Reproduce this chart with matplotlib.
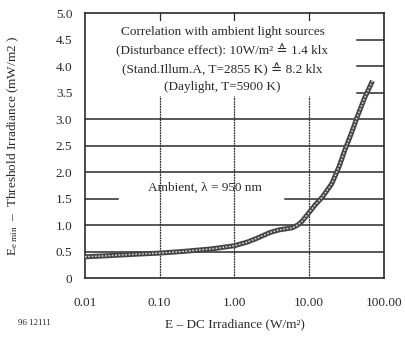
import matplotlib as mpl
import matplotlib.pyplot as plt

mpl.rcParams.update({
    "font.family": ["Liberation Serif", "DejaVu Serif", "DejaVu Sans"],
    "mathtext.fontset": "custom",
    "mathtext.rm": "Liberation Serif",
    "mathtext.it": "Liberation Serif:italic",
    "font.size": 9,
})

INK = "#2a2a2a"

# DC irradiance (W/m2) vs threshold irradiance (mW/m2)
dc_irr = [0.01, 0.02, 0.05, 0.1, 0.2, 0.5, 1.0, 1.5, 2.0, 3.0, 4.0, 5.0, 6.0, 7.0, 8.0,
          10.0, 12.0, 15.0, 20.0, 25.0, 30.0, 37.0, 44.0, 55.0, 70.0]
threshold = [0.40, 0.42, 0.45, 0.47, 0.50, 0.55, 0.61, 0.68, 0.75, 0.86, 0.91, 0.93, 0.95,
             1.00, 1.07, 1.24, 1.38, 1.53, 1.78, 2.10, 2.42, 2.75, 3.05, 3.40, 3.72]

x_ticks = [0.01, 0.1, 1, 10, 100]
x_tick_labels = ["0.01", "0.10", "1.00", "10.00", "100.00"]
y_ticks = [0, 0.5, 1.0, 1.5, 2.0, 2.5, 3.0, 3.5, 4.0, 4.5, 5.0]
y_tick_labels = ["0", "0.5", "1.0", "1.5", "2.0", "2.5", "3.0", "3.5", "4.0", "4.5", "5.0"]

fig = plt.figure(figsize=(4.06, 3.38), dpi=100)
ax = fig.add_axes([0.209, 0.1775, 0.737, 0.784])
ax.set_xscale("log")
ax.set_xlim(0.01, 100)
ax.set_ylim(0, 5)

# grid, partly interrupted by the annotations
for y in (0.5, 1.0, 2.0, 2.5, 3.0):
    ax.axhline(y, color=INK, lw=1.1, zorder=1)
ax.axhline(1.5, xmin=0, xmax=0.11, color=INK, lw=1.1, zorder=1)
ax.axhline(1.5, xmin=0.67, xmax=1, color=INK, lw=1.1, zorder=1)
for y in (3.5, 4.0, 4.5):
    ax.axhline(y, xmin=0.91, xmax=1, color=INK, lw=1.1, zorder=1)
for x in (0.1, 1, 10):
    ax.axvline(x, ymin=0, ymax=0.685, color=INK, lw=0.9, ls=(0, (1.5, 0.6)), zorder=1)
    ax.axvline(x, ymin=0.975, ymax=1, color=INK, lw=0.9, zorder=1)

ax.plot(dc_irr, threshold, color="#444444", lw=3.6, solid_capstyle="butt", zorder=3)
ax.plot(dc_irr, threshold, color="#d0d0d0", lw=1.1, ls=(0, (1.2, 1.0)), zorder=4)

ax.set_xticks(x_ticks, x_tick_labels)
ax.set_yticks(y_ticks, y_tick_labels)
ax.minorticks_off()
ax.tick_params(length=0, labelsize=9.5, colors=INK)
ax.tick_params(axis="x", pad=14)
ax.tick_params(axis="y", pad=9)
for s in ax.spines.values():
    s.set_color(INK)
    s.set_linewidth(1.2)

ax.set_xlabel("E – DC Irradiance (W/m²)", fontsize=9.5, color=INK, labelpad=6)
ax.set_ylabel(r"E$_{\rm e\ min}$  –  Threshold Irradiance (mW/m2 )", fontsize=9.5, color=INK)
ax.yaxis.set_label_coords(-0.215, 0.5)

box_lines = [
    (4.64, "Correlation with ambient light sources"),
    (4.30, "(Disturbance effect): 10W/m² ≙ 1.4 klx"),
    (3.93, "(Stand.Illum.A, T=2855 K) ≙ 8.2 klx"),
    (3.60, "(Daylight, T=5900 K)"),
]
for y, s in box_lines:
    ax.text(0.46, y, s, transform=ax.get_yaxis_transform(), ha="center", va="center",
            fontsize=9.5, color=INK, zorder=5)

ax.text(0.40, 1.70, "Ambient, λ = 950 nm", transform=ax.get_yaxis_transform(),
        ha="center", va="center", fontsize=9.5, color=INK, zorder=5)

fig.text(0.045, 0.045, "96 12111", fontsize=6.5, color=INK, ha="left", va="center")

fig.savefig("out.png", dpi=100)
